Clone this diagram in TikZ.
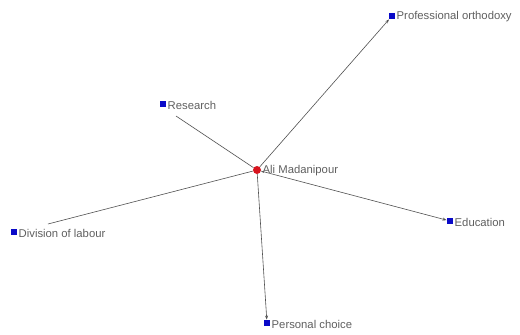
\documentclass[tikz,border=0pt]{standalone}
\usepackage{fontspec}
\setmainfont{Liberation Sans}
\usetikzlibrary{arrows.meta}
\definecolor{sqblue}{RGB}{10,10,200}
\definecolor{dotred}{RGB}{215,20,30}
\definecolor{txtgray}{RGB}{95,95,95}
\definecolor{edgegray}{RGB}{80,80,80}
\tikzset{
  sq/.style={draw=none,fill=sqblue,minimum size=6.5pt,inner sep=0pt},
  lbl/.style={anchor=west,text=txtgray,font=\fontsize{11.3}{12}\selectfont,inner sep=0.5pt},
  edge/.style={draw=edgegray,line width=0.6pt},
  arr/.style={edge,-{Stealth[length=4pt,width=3pt]}}
}
\begin{document}
\begin{tikzpicture}[x=1pt,y=-1pt]
\useasboundingbox (0,0) rectangle (520,335);
\node[circle,fill=dotred,minimum size=8pt,inner sep=0pt] (c) at (257,170) {};
\node[lbl] (cl) at (262,171) {Ali Madanipour};
\node[sq] (po) at (392,16) {};
\node[lbl] (pol) at (396,17) {Professional orthodoxy};
\node[sq] (re) at (163,104) {};
\node[lbl] (rel) at (167,105) {Research};
\node[sq] (dl) at (14,232) {};
\node[lbl] (dll) at (18,233) {Division of labour};
\node[sq] (ed) at (450,221) {};
\node[lbl] (edl) at (454,222) {Education};
\node[sq] (pc) at (267,323) {};
\node[lbl] (pcl) at (271,324) {Personal choice};
\coordinate (reend) at (176,116);
\coordinate (dlend) at (48,224);
\draw[arr] (c) -- (po);
\draw[arr] (c) -- (ed);
\draw[arr] (c) -- (pc);
\draw[edge] (c) -- (reend);
\draw[edge] (c) -- (dlend);
\end{tikzpicture}
\end{document}
